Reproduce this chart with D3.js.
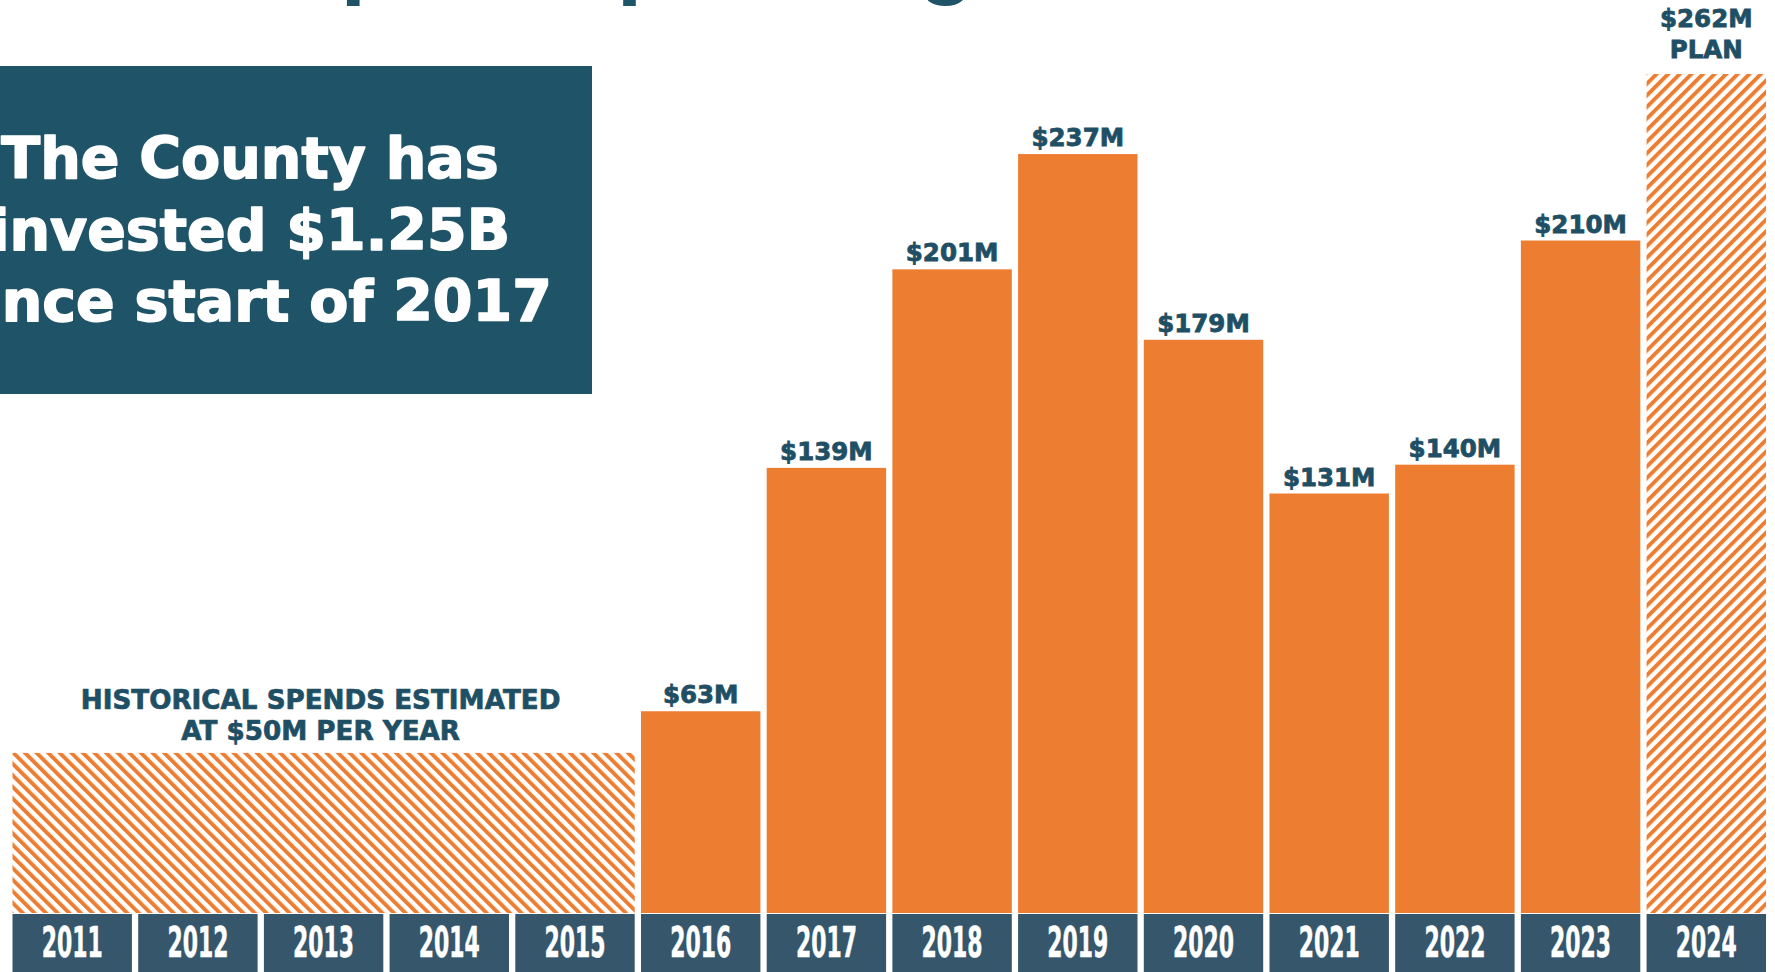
<!DOCTYPE html>
<html>
<head>
<meta charset="utf-8">
<script src="https://cdn.jsdelivr.net/npm/d3@7"></script>
<style>
  html, body { margin: 0; padding: 0; background: #fff; overflow: hidden; }
  svg { display: block; }
</style>
</head>
<body>
<svg id="chart" width="1775" height="972"></svg>
<script>
// ---- data ----
const years = ["2011","2012","2013","2014","2015","2016","2017","2018","2019","2020","2021","2022","2023","2024"];
const historicalYears = ["2011","2012","2013","2014","2015"];
const historicalValue = 50;
const actualYears = ["2016","2017","2018","2019","2020","2021","2022","2023"];
const actualValues = [63, 139, 201, 237, 179, 131, 140, 210];
const planYear = "2024";
const planValue = 262;
const historicalNote = ["HISTORICAL SPENDS ESTIMATED", "AT $50M PER YEAR"];
const boxLines = ["The County has", "invested $1.25B", "since start of 2017"];
const titleText = "Capital Spending";

// ---- styles ----
const ORANGE = "#ed7d31";
const TEAL = "#1f5468";
const BAND = "#36566b";
const LABEL = "#1f4f64";

const svg = d3.select("#chart");
const W = 1775, H = 972;

const x = d3.scaleBand().domain(years).range([12.5, 1766]).paddingInner(0.05).paddingOuter(0);
const y = d3.scaleLinear().domain([0, planValue]).range([913, 74]);

// patterns
const defs = svg.append("defs");
function stripes(id, angle) {
  const s = 8.2;
  const p = defs.append("pattern")
    .attr("id", id)
    .attr("patternUnits", "userSpaceOnUse")
    .attr("width", s).attr("height", s)
    .attr("patternTransform", `rotate(${angle})`);
  p.append("rect").attr("width", s).attr("height", s).attr("fill", "#fff");
  p.append("rect").attr("x", 0).attr("y", 0).attr("width", 3.9).attr("height", s).attr("fill", ORANGE);
}
stripes("hatchBack", -45);
stripes("hatchFwd", 45);

// title (mostly cut off at top, as in the reference)
svg.append("text")
  .attr("x", 223).attr("y", -13)
  .attr("font-family", "Liberation Sans, Arial, sans-serif")
  .attr("font-weight", "bold")
  .attr("font-size", 92)
  .attr("fill", TEAL)
  .text(titleText);

// info box
svg.append("rect").attr("x", 0).attr("y", 66).attr("width", 592).attr("height", 328).attr("fill", TEAL);
svg.append("g").selectAll("text").data(boxLines).join("text")
  .attr("x", 250)
  .attr("y", (d, i) => 178 + i * 71.5)
  .attr("text-anchor", "middle")
  .attr("font-family", "DejaVu Sans, sans-serif")
  .attr("font-weight", "bold")
  .attr("font-size", 57)
  .attr("fill", "#fff")
  .attr("stroke", "#fff")
  .attr("stroke-width", 1.6)
  .attr("stroke-linejoin", "round")
  .text(d => d);

// historical hatched block
const hx0 = x(historicalYears[0]);
const hx1 = x(historicalYears[historicalYears.length - 1]) + x.bandwidth();
svg.append("rect")
  .attr("x", hx0).attr("y", y(historicalValue))
  .attr("width", hx1 - hx0).attr("height", y(0) - y(historicalValue))
  .attr("fill", "url(#hatchBack)");

svg.append("g").selectAll("text").data(historicalNote).join("text")
  .attr("x", (hx0 + hx1) / 2 - 3)
  .attr("y", (d, i) => 709 + i * 31)
  .attr("text-anchor", "middle")
  .attr("font-family", "DejaVu Sans, sans-serif")
  .attr("font-weight", "bold")
  .attr("font-size", 26.2)
  .attr("fill", LABEL)
  .attr("stroke", LABEL)
  .attr("stroke-width", 0.7)
  .text(d => d);

// actual bars
const actual = actualYears.map((yr, i) => ({ year: yr, value: actualValues[i] }));
svg.append("g").selectAll("rect").data(actual).join("rect")
  .attr("x", d => x(d.year))
  .attr("y", d => y(d.value))
  .attr("width", x.bandwidth())
  .attr("height", d => y(0) - y(d.value))
  .attr("fill", ORANGE);

svg.append("g").selectAll("text").data(actual).join("text")
  .attr("x", d => x(d.year) + x.bandwidth() / 2)
  .attr("y", d => y(d.value) - 8)
  .attr("text-anchor", "middle")
  .attr("font-family", "DejaVu Sans, sans-serif")
  .attr("font-weight", "bold")
  .attr("font-size", 24.5)
  .attr("fill", LABEL)
  .attr("stroke", LABEL)
  .attr("stroke-width", 0.8)
  .text(d => `$${d.value}M`);

// plan bar
svg.append("rect")
  .attr("x", x(planYear)).attr("y", y(planValue))
  .attr("width", x.bandwidth()).attr("height", y(0) - y(planValue))
  .attr("fill", "url(#hatchFwd)");
const planLabel = svg.append("text")
  .attr("text-anchor", "middle")
  .attr("font-family", "DejaVu Sans, sans-serif")
  .attr("font-weight", "bold")
  .attr("font-size", 24.5)
  .attr("fill", LABEL)
  .attr("stroke", LABEL)
  .attr("stroke-width", 0.8);
planLabel.append("tspan").attr("x", x(planYear) + x.bandwidth() / 2).attr("y", y(planValue) - 47).text(`$${planValue}M`);
planLabel.append("tspan").attr("x", x(planYear) + x.bandwidth() / 2).attr("y", y(planValue) - 16).text("PLAN");

// year band (axis)
const axisG = svg.append("g");
axisG.selectAll("rect").data(years).join("rect")
  .attr("x", d => x(d)).attr("y", 914)
  .attr("width", x.bandwidth()).attr("height", H - 914)
  .attr("fill", BAND);
axisG.selectAll("text").data(years).join("text")
  .attr("x", d => x(d) + x.bandwidth() / 2)
  .attr("y", 957)
  .attr("text-anchor", "middle")
  .attr("font-family", "Liberation Sans Narrow, DejaVu Sans Condensed, sans-serif")
  .attr("font-weight", "bold")
  .attr("font-size", 42)
  .attr("textLength", 61)
  .attr("lengthAdjust", "spacingAndGlyphs")
  .attr("fill", "#fff")
  .attr("stroke", "#fff")
  .attr("stroke-width", 0.6)
  .text(d => d);
</script>
</body>
</html>
